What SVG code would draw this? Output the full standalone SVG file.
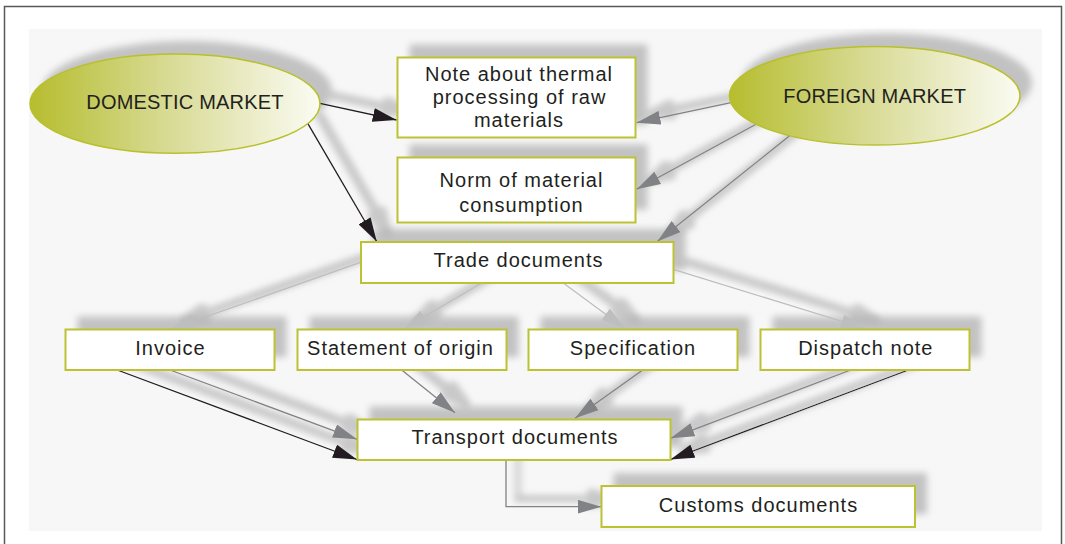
<svg xmlns="http://www.w3.org/2000/svg" width="1065" height="544" viewBox="0 0 1065 544">
<defs>
<style>
.box{fill:#ffffff;stroke:#bcc232;stroke-width:2}
.ell{fill:url(#eg);stroke:#b9c02c;stroke-width:1.5}
.t{font-family:"Liberation Sans",Arial,sans-serif;font-size:20px;letter-spacing:1px;fill:#231f20;text-anchor:middle}
.c{letter-spacing:0.2px}
.blk{stroke:#231f20;stroke-width:1.3;fill:none;marker-end:url(#ab)}
.gry{stroke:#808285;stroke-width:1.3;fill:none;marker-end:url(#ag)}
.lgt{stroke:#bcbec0;stroke-width:1.3;fill:none;marker-end:url(#al)}
</style>
<linearGradient id="eg" x1="0" y1="0" x2="1" y2="0">
<stop offset="0" stop-color="#b6bd2e"/>
<stop offset="0.45" stop-color="#d6d98f"/>
<stop offset="1" stop-color="#fbfbf3"/>
</linearGradient>
<marker id="ab" markerUnits="userSpaceOnUse" markerWidth="24" markerHeight="14" refX="24" refY="7" orient="auto"><path d="M0,0 L24,7 L0,14 z" fill="#231f20"/></marker>
<marker id="ag" markerUnits="userSpaceOnUse" markerWidth="24" markerHeight="14" refX="24" refY="7" orient="auto"><path d="M0,0 L24,7 L0,14 z" fill="#808285"/></marker>
<marker id="al" markerUnits="userSpaceOnUse" markerWidth="24" markerHeight="14" refX="24" refY="7" orient="auto"><path d="M0,0 L24,7 L0,14 z" fill="#bcbec0"/></marker>
<filter id="sb" x="-20%" y="-40%" width="140%" height="180%"><feGaussianBlur stdDeviation="3.5"/></filter>
<filter id="ls" x="-10%" y="-20%" width="120%" height="140%">
<feMorphology in="SourceAlpha" operator="dilate" radius="2.5"/>
<feGaussianBlur stdDeviation="3"/>
<feOffset dx="12" dy="-8" result="o"/>
<feFlood flood-color="#b0b0b0" flood-opacity="0.65"/>
<feComposite in2="o" operator="in"/>
<feMerge><feMergeNode/><feMergeNode in="SourceGraphic"/></feMerge>
</filter>
</defs>
<rect x="0" y="0" width="1065" height="544" fill="#ffffff"/>
<rect x="4.5" y="6.5" width="1057" height="560" fill="none" stroke="#58595b" stroke-width="1.5"/>
<rect x="29" y="29" width="1013" height="502" fill="#f7f7f7"/>

<g id="shadows" filter="url(#sb)" fill="#c2c2c2" transform="translate(12,-13)">
<ellipse cx="175" cy="103.7" rx="145" ry="49.6"/>
<ellipse cx="874.7" cy="95.8" rx="145.3" ry="49.2"/>
<rect x="397.5" y="57.5" width="238" height="80"/>
<rect x="397.5" y="157.5" width="238" height="65"/>
<rect x="361" y="242" width="312.5" height="41"/>
<rect x="65.5" y="329.5" width="209" height="40.5"/>
<rect x="297.5" y="329.5" width="209" height="40.5"/>
<rect x="528.5" y="329.5" width="209" height="40.5"/>
<rect x="760.5" y="329.5" width="209" height="40.5"/>
<rect x="357.5" y="419.5" width="313" height="40.5"/>
<rect x="601.5" y="486" width="313.5" height="41"/>
</g>

<g id="connectors" filter="url(#ls)">
<path class="blk" d="M320,103.3 L396.7,120"/>
<path class="blk" d="M307.3,122.7 L376.7,241.5"/>
<path class="gry" d="M731,102.7 L636.5,122.7"/>
<path class="gry" d="M756,124.3 L636.7,189.3"/>
<path class="gry" d="M789.3,136 L657.3,241.5"/>
<path class="lgt" d="M360.5,262.3 L171,329"/>
<path class="lgt" d="M481.7,283 L403.3,329"/>
<path class="lgt" d="M563.3,283 L625,328.5"/>
<path class="lgt" d="M673.3,269.3 L865,328.5"/>
<path class="blk" d="M117.3,370 L357,459.5"/>
<path class="gry" d="M170,370 L357,439.3"/>
<path class="gry" d="M401.7,370 L455,412.7"/>
<path class="gry" d="M642.7,370 L575,418.3"/>
<path class="gry" d="M850.7,370 L670.5,438.3"/>
<path class="blk" d="M908.3,370 L670.5,459.5"/>
<path class="gry" d="M506,460 V506.7 H601.5"/>
</g>

<g id="domestic-market">
<ellipse class="ell" cx="175" cy="103.7" rx="145" ry="49.6"/>
<text class="t c" x="185" y="109">DOMESTIC MARKET</text>
</g>
<g id="foreign-market">
<ellipse class="ell" cx="874.7" cy="95.8" rx="145.3" ry="49.2"/>
<text class="t c" x="874.7" y="103.3">FOREIGN MARKET</text>
</g>
<g id="note-thermal">
<rect class="box" x="397.5" y="57.5" width="238" height="80"/>
<text class="t" x="519" y="80.5"><tspan x="519">Note about thermal</tspan><tspan x="519.5" dy="23.2">processing of raw</tspan><tspan x="519" dy="23.2">materials</tspan></text>
</g>
<g id="norm-consumption">
<rect class="box" x="397.5" y="157.5" width="238" height="65"/>
<text class="t" x="521.5" y="187.3"><tspan x="521.5">Norm of material</tspan><tspan x="521.5" dy="24.4">consumption</tspan></text>
</g>
<g id="trade-documents">
<rect class="box" x="361" y="242" width="312.5" height="41"/>
<text class="t" x="518.5" y="266.7">Trade documents</text>
</g>
<g id="invoice">
<rect class="box" x="65.5" y="329.5" width="209" height="40.5"/>
<text class="t" x="170.5" y="355">Invoice</text>
</g>
<g id="statement-origin">
<rect class="box" x="297.5" y="329.5" width="209" height="40.5"/>
<text class="t" x="400.5" y="355">Statement of origin</text>
</g>
<g id="specification">
<rect class="box" x="528.5" y="329.5" width="209" height="40.5"/>
<text class="t" x="633" y="355">Specification</text>
</g>
<g id="dispatch-note">
<rect class="box" x="760.5" y="329.5" width="209" height="40.5"/>
<text class="t" x="865.8" y="355">Dispatch note</text>
</g>
<g id="transport-documents">
<rect class="box" x="357.5" y="419.5" width="313" height="40.5"/>
<text class="t" x="515" y="444.3">Transport documents</text>
</g>
<g id="customs-documents">
<rect class="box" x="601.5" y="486" width="313.5" height="41"/>
<text class="t" x="758.5" y="511.7">Customs documents</text>
</g>
</svg>
